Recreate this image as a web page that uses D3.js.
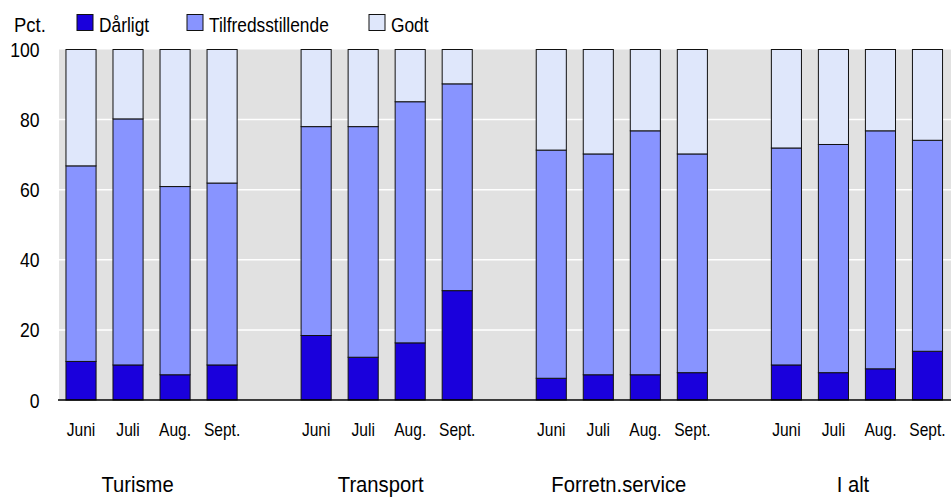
<!DOCTYPE html>
<html><head><meta charset="utf-8">
<script src="https://cdn.jsdelivr.net/npm/d3@7"></script>
<style>
body{margin:0;background:#fff}
svg{display:block}
text{font-family:"Liberation Sans",Arial,Helvetica,sans-serif;fill:#000}
</style>
</head><body>
<svg id="c" width="951" height="497"></svg>
<script>
// ---- data ----
const groups = ["Turisme", "Transport", "Forretn.service", "I alt"];
const months = ["Juni", "Juli", "Aug.", "Sept."];
const seriesNames = ["Dårligt", "Tilfredsstillende", "Godt"];
const daarligt = [11, 10, 7.2, 10,   18.4, 12.2, 16.3, 31.2,   6.2, 7.2, 7.2, 7.8,   10, 7.8, 8.9, 13.9];
const tilfreds = [55.8, 70.2, 53.7, 51.9,   59.6, 65.8, 68.8, 59,   65.1, 63, 69.6, 62.4,   61.9, 65.1, 67.9, 60.2];
const godt     = [33.2, 19.8, 39.1, 38.1,   22, 22, 14.9, 9.8,   28.7, 29.8, 23.2, 29.8,   28.1, 27.1, 23.2, 25.9];
const yTicks = [0, 20, 40, 60, 80, 100];
const yTitle = "Pct.";

// ---- layout ----
const W = 951, H = 497;
const plot = {left: 59, right: 951, top: 49.5, bottom: 400};
const colors = ["#1a00dc", "#8894ff", "#dfe7fb"];
const groupLabelShift = [-14, -6, -3, -4];

const svg = d3.select("#c");

// rows
const rows = [];
groups.forEach((g, gi) => months.forEach((m, mi) => {
  const i = gi * 4 + mi;
  rows.push({slot: gi * 5 + mi, group: g, month: m,
    [seriesNames[0]]: daarligt[i], [seriesNames[1]]: tilfreds[i], [seriesNames[2]]: godt[i]});
}));

const nSlots = groups.length * 5 - 1;
const x = d3.scaleBand().domain(d3.range(nSlots)).range([57.5, W]).paddingInner(0.36).paddingOuter(0.18);
const y = d3.scaleLinear().domain([0, 100]).range([plot.bottom, plot.top]);

// background
svg.append("rect").attr("x", plot.left).attr("y", y(100)).attr("width", plot.right - plot.left)
  .attr("height", y(0) - y(100)).attr("fill", "#e1e1e1");

// gridlines
svg.append("g").selectAll("line").data(yTicks.filter(t => t > 0 && t < 100)).join("line")
  .attr("x1", plot.left).attr("x2", plot.right)
  .attr("y1", d => y(d)).attr("y2", d => y(d))
  .attr("stroke", "#fff").attr("stroke-width", 1.5);

// bars
const stack = d3.stack().keys(seriesNames)(rows);
svg.append("g").selectAll("g").data(stack).join("g")
  .attr("fill", (d, i) => colors[i])
  .selectAll("rect").data(d => d).join("rect")
  .attr("x", d => x(d.data.slot))
  .attr("width", x.bandwidth())
  .attr("y", d => y(d[1]))
  .attr("height", d => y(d[0]) - y(d[1]))
  .attr("stroke", "#111").attr("stroke-width", 1);

// baseline
svg.append("line").attr("x1", 58).attr("x2", W).attr("y1", y(0)).attr("y2", y(0))
  .attr("stroke", "#000").attr("stroke-width", 1.5);

function sText(sel, txt, tx, ty, size, sx, anchor) {
  return sel.append("text").attr("transform", `translate(${tx},${ty}) scale(${sx},1)`)
    .attr("text-anchor", anchor || "start").style("font-size", size + "px").text(txt);
}

// y axis labels
const yAxisG = svg.append("g");
yTicks.forEach(t => sText(yAxisG, t, 39.5, y(t) + 7.5, 20, 0.88, "end"));
sText(svg, yTitle, 14, 32.3, 20.5, 0.9, "start");

// month labels
rows.forEach(r => sText(svg, r.month, x(r.slot) + x.bandwidth() / 2, 436, 17.5, 0.89, "middle"));

// group labels
groups.forEach((g, gi) => {
  const a = x(gi * 5), b = x(gi * 5 + 3) + x.bandwidth();
  sText(svg, g, (a + b) / 2 + groupLabelShift[gi], 491.5, 22, 0.92, "middle");
});

// legend
const legendX = [77, 187, 369];
seriesNames.forEach((s, i) => {
  svg.append("rect").attr("x", legendX[i]).attr("y", 14.5).attr("width", 16).attr("height", 16)
    .attr("fill", colors[i]).attr("stroke", "#111").attr("stroke-width", 1);
  sText(svg, s, legendX[i] + 22, 32.3, 19.5, 0.89, "start");
});
</script>
</body></html>
